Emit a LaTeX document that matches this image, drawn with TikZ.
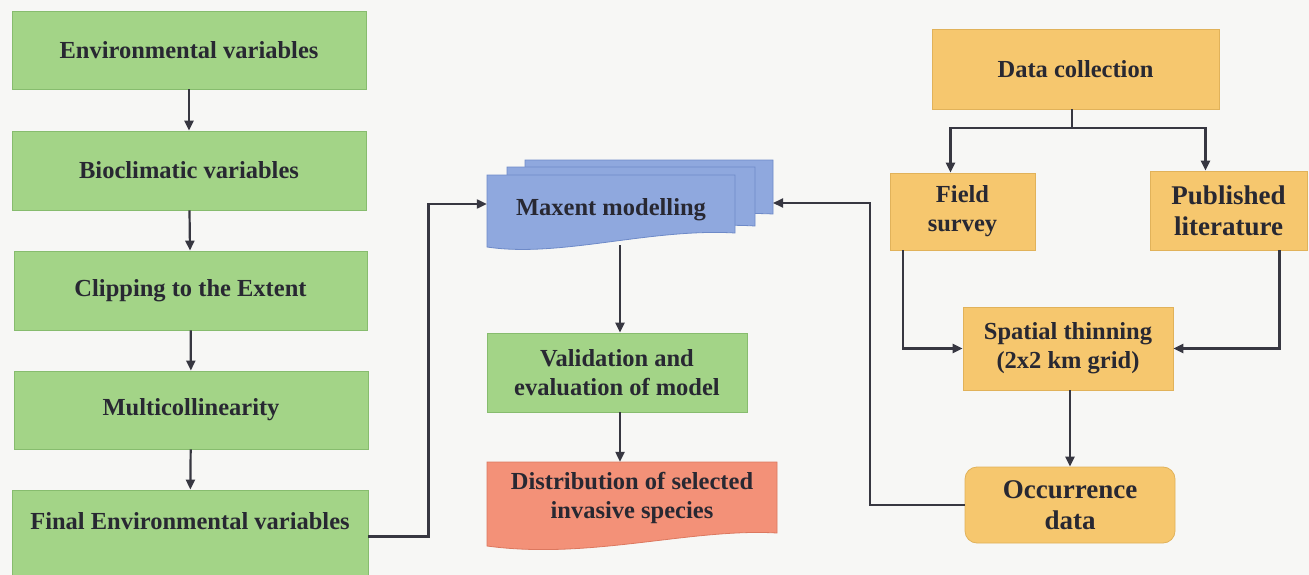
\documentclass[tikz,border=0pt]{standalone}
\usepackage{fontspec}
\setmainfont{Liberation Serif}
\usetikzlibrary{arrows.meta}
\definecolor{bg}{RGB}{247,247,245}
\definecolor{gfill}{RGB}{163,212,135}
\definecolor{gdraw}{RGB}{135,188,110}
\definecolor{ofill}{RGB}{246,199,110}
\definecolor{odraw}{RGB}{225,178,90}
\definecolor{bfill}{RGB}{143,168,222}
\definecolor{bdraw}{RGB}{110,138,200}
\definecolor{rfill}{RGB}{243,145,120}
\definecolor{rdraw}{RGB}{220,120,95}
\definecolor{ink}{RGB}{40,40,50}
\definecolor{lineink}{RGB}{55,55,65}
\begin{document}
\begin{tikzpicture}[x=1pt,y=-1pt,
  box/.style={rectangle, inner sep=0pt, align=center, text=ink,
    font=\fontsize{24.5}{29}\selectfont\bfseries},
  bigtext/.style={font=\fontsize{27}{31}\selectfont\bfseries},
  gbox/.style={box, fill=gfill, draw=gdraw, line width=0.8pt},
  obox/.style={box, fill=ofill, draw=odraw, line width=0.8pt},
  docb/.style={fill=bfill, draw=bdraw, line width=0.8pt},
  docr/.style={fill=rfill, draw=rdraw, line width=0.8pt},
  ln/.style={draw=lineink, line width=2.2pt},
  arr/.style={ln, -{Triangle[length=10pt,width=9pt]}}]
\useasboundingbox (0,0) rectangle (1309,575);
\fill[bg] (0,0) rectangle (1309,575);

% left column
\node[gbox, minimum width=354, minimum height=78] (env) at (189,50) {Environmental variables};
\node[gbox, minimum width=354, minimum height=79] (bio) at (189,170.5) {Bioclimatic variables};
\node[gbox, minimum width=353, minimum height=79] (clip) at (190.5,290.5) {Clipping to the Extent};
\node[gbox, minimum width=354, minimum height=78] (mult) at (191,410) {Multicollinearity};
\node[gbox, minimum width=356, text height=39pt, text depth=46pt] (fin) at (190,532.5) {Final Environmental variables};

\draw[arr] (env) -- (bio);
\draw[arr] (bio) -- (clip);
\draw[arr] (clip) -- (mult);
\draw[arr] (mult) -- (fin);

% Maxent stacked documents
\path[docb] (525,160) -- (773,160) -- (773,214) .. controls (690,210) and (600,232) .. (525,224) -- cycle;
\path[docb] (507,167) -- (755,167) -- (755,226) .. controls (670,221) and (580,244) .. (507,236) -- cycle;
\path[docb] (487,175) -- (735,175) -- (735,233) .. controls (650,228) and (560,258) .. (487,247) -- cycle;
\node[box, minimum width=248, minimum height=70] (max) at (611,210) {Maxent modelling};
\coordinate (maxr) at (773,203);

% validation and distribution
\node[gbox, minimum width=260, minimum height=79] (val) at (617,372.5) {Validation and\\evaluation of model};
\path[docr] (487,462) -- (777,462) -- (777,533) .. controls (690,528) and (590,560) .. (487,546) -- cycle;
\node[box, minimum width=290, minimum height=72] (dist) at (632,498) {Distribution of selected\\invasive species};

\draw[arr] ([yshift=-4pt]fin.east) -- ++(60,0) |- ([yshift=6pt]max.west);
\draw[arr] ([xshift=9pt]max.south) -- ([xshift=3pt]val.north);
\draw[arr] ([xshift=3pt]val.south) -- ([xshift=-12pt]dist.north);

% right column
\node[obox, minimum width=287, minimum height=80] (dc) at (1075.5,69) {Data collection};
\node[obox, minimum width=145, minimum height=77] (fs) at (962.5,211.5) {Field\\survey};
\node[obox, bigtext, minimum width=157, minimum height=79] (pl) at (1228.5,210.5) {Published\\literature};
\node[obox, minimum width=210, minimum height=83] (st) at (1068,348.5) {Spatial thinning\\(2x2 km grid)};
\node[obox, bigtext, rounded corners=12pt, minimum width=210, minimum height=76] (occ) at (1070,505) {Occurrence\\data};

\coordinate (split) at (1072,128);
\draw[ln] (dc.south -| split) -- (split);
\draw[arr] (split) -| ([xshift=-12pt]fs.north);
\draw[arr] (split) -| ([xshift=-23pt]pl.north);
\draw[arr] ([xshift=13pt]fs.south west) |- (st.west);
\draw[arr] ([xshift=-28pt]pl.south east) |- (st.east);
\draw[arr] (st.south -| occ.north) -- (occ.north);
\draw[arr] (occ.west) -- ++(-95,0) |- (maxr);
\end{tikzpicture}
\end{document}
